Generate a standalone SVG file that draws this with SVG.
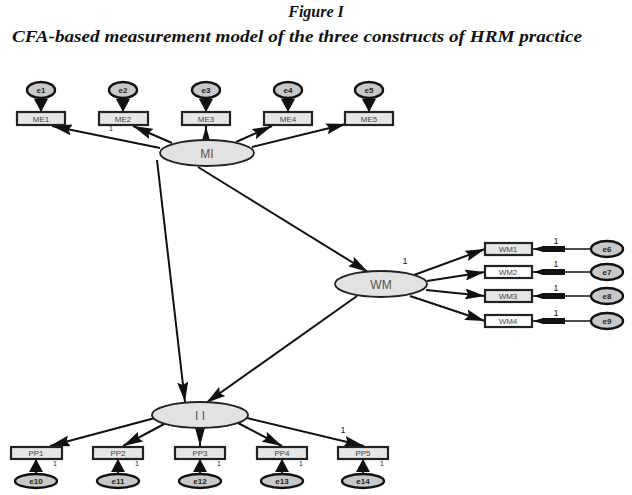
<svg xmlns="http://www.w3.org/2000/svg" width="632" height="495" viewBox="0 0 632 495">
<defs>
<style>
.title{font-family:"Liberation Serif","DejaVu Serif",serif;font-weight:bold;font-style:italic;fill:#111}
.box{fill:#e6e6e6;stroke:#222;stroke-width:2.2}
.lat{fill:#e2e2e2;stroke:#222;stroke-width:1.8}
.err{fill:#c8c8c8;stroke:#111;stroke-width:2.4}
.bl{font-family:"Liberation Sans",Arial,sans-serif;font-size:8px;fill:#444;text-anchor:middle}
.ll{font-family:"Liberation Sans",Arial,sans-serif;font-size:12px;fill:#555;text-anchor:middle}
.el{font-family:"Liberation Sans",Arial,sans-serif;font-size:8px;fill:#222;text-anchor:middle;font-weight:bold}
.one{font-family:"Liberation Sans",Arial,sans-serif;font-size:9px;fill:#222;text-anchor:middle}
.tiny{font-family:"Liberation Sans",Arial,sans-serif;font-size:7px;fill:#222;text-anchor:middle}
.c{stroke:#111;stroke-width:2;fill:none;marker-end:url(#ah)}
.ce{stroke:#111;stroke-width:1.8;fill:none;marker-end:url(#ahw)}
.cl{stroke:#111;stroke-width:1.6;fill:none;marker-end:url(#ahl)}
</style>
<marker id="ah" markerUnits="userSpaceOnUse" markerWidth="20" markerHeight="11" refX="20" refY="5.5" orient="auto"><path d="M0,0 L20,5.5 L0,11 L3,5.5 z" fill="#111"/></marker>
<marker id="ahw" markerUnits="userSpaceOnUse" markerWidth="13" markerHeight="14" refX="13" refY="7" orient="auto"><path d="M0,0 L13,7 L0,14 z" fill="#111"/></marker>
<marker id="ahl" markerUnits="userSpaceOnUse" markerWidth="32" markerHeight="9" refX="32" refY="4.5" orient="auto"><path d="M0,1.5 L22,1.5 L32,4.5 L22,7.5 L0,7.5 z" fill="#111"/></marker>
</defs>
<rect width="632" height="495" fill="#fff"/>
<text class="title" x="316" y="17" font-size="16" text-anchor="middle">Figure I</text>
<text class="title" x="12" y="42" font-size="17" textLength="570" lengthAdjust="spacingAndGlyphs">CFA-based measurement model of the three constructs of HRM practice</text>

<g id="connectors">
<path class="c" d="M160,148 L52,126"/>
<path class="c" d="M172,143 L133,126"/>
<path class="c" d="M206,140 L206,126"/>
<path class="c" d="M236,142 L272,126"/>
<path class="c" d="M252,147 L346,124"/>
<path class="ce" d="M41,98 L41,112"/>
<path class="ce" d="M123,98 L123,112"/>
<path class="ce" d="M206,98 L206,112"/>
<path class="ce" d="M288,98 L288,112"/>
<path class="ce" d="M369,98 L369,112"/>
<path class="c" d="M157,160 L185,402"/>
<path class="c" d="M198,167 L368,272"/>
<path class="c" d="M357,296 L206,403"/>
<path class="c" d="M414,275 L485,249"/>
<path class="c" d="M427,281 L485,272"/>
<path class="c" d="M426,290 L485,296"/>
<path class="c" d="M410,296 L485,321"/>
<path class="cl" d="M591,249 L533,249"/>
<path class="cl" d="M591,272 L533,272"/>
<path class="cl" d="M591,296 L533,296"/>
<path class="cl" d="M591,321 L533,321"/>
<path class="c" d="M155,418 L50,446"/>
<path class="c" d="M166,423 L123,446"/>
<path class="c" d="M200,428 L200,446"/>
<path class="c" d="M238,423 L282,446"/>
<path class="c" d="M247,418 L364,446"/>
<path class="ce" d="M36,474 L36,459"/>
<path class="ce" d="M118,474 L118,459"/>
<path class="ce" d="M200,474 L200,459"/>
<path class="ce" d="M282,474 L282,459"/>
<path class="ce" d="M363,474 L363,459"/>
</g>

<g id="labels1">
<text class="one" x="405" y="264">1</text>
<text class="one" x="556" y="244">1</text>
<text class="one" x="556" y="267">1</text>
<text class="one" x="556" y="291">1</text>
<text class="one" x="556" y="316">1</text>
<text class="one" x="343" y="433">1</text>
<text class="tiny" x="111" y="131">1</text>
<text class="tiny" x="55" y="466">1</text>
<text class="tiny" x="137" y="466">1</text>
<text class="tiny" x="219" y="466">1</text>
<text class="tiny" x="301" y="466">1</text>
<text class="tiny" x="382" y="466">1</text>
</g>

<g id="MI"><ellipse class="lat" cx="207" cy="153" rx="47" ry="13"/><text class="ll" x="207" y="158">MI</text></g>
<g id="WM"><ellipse class="lat" cx="381" cy="284" rx="46" ry="13"/><text class="ll" x="381" y="289">WM</text></g>
<g id="II"><ellipse class="lat" cx="200" cy="415" rx="48" ry="13"/><text class="ll" x="200" y="420">I I</text></g>

<g id="ME1"><rect class="box" x="17" y="112" width="48" height="13"/><text class="bl" x="41" y="121.5">ME1</text></g>
<g id="ME2"><rect class="box" x="99" y="112" width="49" height="13"/><text class="bl" x="123" y="121.5">ME2</text></g>
<g id="ME3"><rect class="box" x="182" y="112" width="48" height="13"/><text class="bl" x="206" y="121.5">ME3</text></g>
<g id="ME4"><rect class="box" x="264" y="112" width="48" height="13"/><text class="bl" x="288" y="121.5">ME4</text></g>
<g id="ME5"><rect class="box" x="345" y="112" width="48" height="13"/><text class="bl" x="369" y="121.5">ME5</text></g>

<g id="e1"><ellipse class="err" cx="41" cy="90" rx="14" ry="8"/><text class="el" x="41" y="93">e1</text></g>
<g id="e2"><ellipse class="err" cx="123" cy="90" rx="14" ry="8"/><text class="el" x="123" y="93">e2</text></g>
<g id="e3"><ellipse class="err" cx="206" cy="90" rx="14" ry="8"/><text class="el" x="206" y="93">e3</text></g>
<g id="e4"><ellipse class="err" cx="288" cy="90" rx="14" ry="8"/><text class="el" x="288" y="93">e4</text></g>
<g id="e5"><ellipse class="err" cx="369" cy="90" rx="14" ry="8"/><text class="el" x="369" y="93">e5</text></g>

<g id="WM1"><rect class="box" x="485" y="243" width="47" height="12"/><text class="bl" x="508" y="252">WM1</text></g>
<g id="WM2"><rect class="box" x="485" y="266" width="47" height="12" style="fill:#fff"/><text class="bl" x="508" y="275">WM2</text></g>
<g id="WM3"><rect class="box" x="485" y="290" width="47" height="12"/><text class="bl" x="508" y="299">WM3</text></g>
<g id="WM4"><rect class="box" x="485" y="315" width="47" height="12" style="fill:#fff"/><text class="bl" x="508" y="324">WM4</text></g>

<g id="e6"><ellipse class="err" cx="607" cy="249" rx="16" ry="8"/><text class="el" x="607" y="252">e6</text></g>
<g id="e7"><ellipse class="err" cx="607" cy="272" rx="16" ry="8"/><text class="el" x="607" y="275">e7</text></g>
<g id="e8"><ellipse class="err" cx="607" cy="296" rx="16" ry="8"/><text class="el" x="607" y="299">e8</text></g>
<g id="e9"><ellipse class="err" cx="607" cy="321" rx="16" ry="8"/><text class="el" x="607" y="324">e9</text></g>

<g id="PP1"><rect class="box" x="11" y="447" width="51" height="12"/><text class="bl" x="36" y="456">PP1</text></g>
<g id="PP2"><rect class="box" x="93" y="447" width="50" height="12"/><text class="bl" x="118" y="456">PP2</text></g>
<g id="PP3"><rect class="box" x="175" y="447" width="50" height="12"/><text class="bl" x="200" y="456">PP3</text></g>
<g id="PP4"><rect class="box" x="257" y="447" width="50" height="12"/><text class="bl" x="282" y="456">PP4</text></g>
<g id="PP5"><rect class="box" x="338" y="447" width="50" height="12"/><text class="bl" x="363" y="456">PP5</text></g>

<g id="e10"><ellipse class="err" cx="36" cy="481" rx="21" ry="7"/><text class="el" x="36" y="484">e10</text></g>
<g id="e11"><ellipse class="err" cx="118" cy="481" rx="21" ry="7"/><text class="el" x="118" y="484">e11</text></g>
<g id="e12"><ellipse class="err" cx="200" cy="481" rx="21" ry="7"/><text class="el" x="200" y="484">e12</text></g>
<g id="e13"><ellipse class="err" cx="282" cy="481" rx="21" ry="7"/><text class="el" x="282" y="484">e13</text></g>
<g id="e14"><ellipse class="err" cx="363" cy="481" rx="21" ry="7"/><text class="el" x="363" y="484">e14</text></g>
</svg>
